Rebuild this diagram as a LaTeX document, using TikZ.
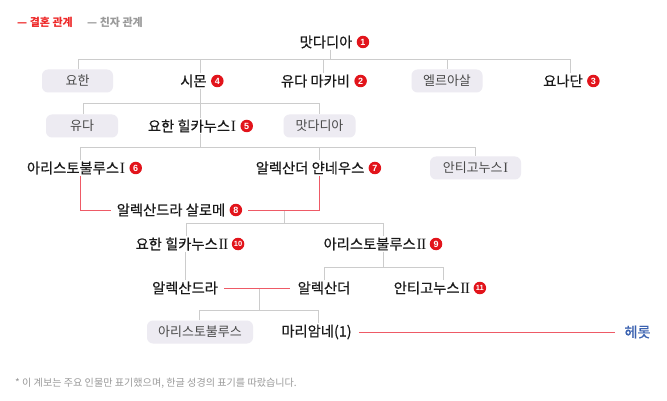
\documentclass[tikz,border=0pt]{standalone}
\usepackage{fontspec}
\setmainfont{Noto Sans CJK KR}
\newfontfamily\namefont[FakeBold=0.5]{Noto Sans CJK KR}
\newfontfamily\badgefont{Liberation Sans}
\newfontfamily\romanfont[Scale=1.1]{Liberation Serif}
\newcommand{\RomOne}{{\romanfont\kern0.8pt I}}
\newcommand{\RomTwo}{{\romanfont\kern0.8pt I\kern-0.6pt I}}
\usetikzlibrary{positioning}
\definecolor{kincol}{HTML}{CCCCCC}
\definecolor{marcol}{HTML}{EE5A66}
\definecolor{badgered}{HTML}{E2141B}
\definecolor{boxfill}{HTML}{EDEBF2}
\definecolor{boxtext}{HTML}{4A4A4A}
\definecolor{nametext}{HTML}{1A1A1A}
\definecolor{herodblue}{HTML}{3B62B0}
\definecolor{legred}{HTML}{EE2A2A}
\definecolor{leggray}{HTML}{9A9A9A}
\tikzset{
  nm/.style={inner sep=1pt, text=nametext, font=\namefont\fontsize{14.3}{16}\selectfont},
  bx/.style={fill=boxfill, rounded corners=6pt, minimum height=23pt, inner sep=2pt, text=boxtext, font=\fontsize{13}{15}\selectfont},
  badge/.style={circle, fill=badgered, text=white, inner sep=0pt, minimum size=12.5pt, font=\badgefont\bfseries\fontsize{9}{9}\selectfont},
  badgesm/.style={badge, font=\badgefont\bfseries\fontsize{7.5}{7.5}\selectfont},
  kinl/.style={draw=kincol, line width=1pt},
  marl/.style={draw=marcol, line width=1pt},
}
\begin{document}
\begin{tikzpicture}[x=1pt,y=-1pt]
\useasboundingbox[fill=white] (0,0) rectangle (667,401);
% legend
\node[anchor=west, inner sep=0pt, text=legred, font=\bfseries\fontsize{11}{13}\selectfont] (leg1) at (17,22) {— 결혼 관계};
\node[anchor=west, inner sep=0pt, text=leggray, font=\bfseries\fontsize{11}{13}\selectfont] (leg2) at (87,22) {— 친자 관계};
% row 1
\node[nm] (mat) at (326,42) {맛다디아};
\node[badge, right=3pt of mat] (b1) {1};
% row 2
\node[bx, minimum width=71pt] (yohan) at (77.5,81) {요한};
\node[nm] (simon) at (193.5,81) {시몬};
\node[badge, right=3pt of simon] (b4) {4};
\node[nm] (yuda) at (315.5,81) {유다 마카비};
\node[badge, right=3pt of yuda] (b2) {2};
\node[bx, minimum width=71pt] (eleazar) at (447,81) {엘르아살};
\node[nm] (yonadan) at (563,81) {요나단};
\node[badge, right=3pt of yonadan] (b3) {3};
% row 3
\node[bx, minimum width=72pt] (yuda2) at (82,126) {유다};
\node[nm] (hyr1) at (192,126) {요한 힐카누스\RomOne};
\node[badge, right=3pt of hyr1] (b5) {5};
\node[bx, minimum width=72pt] (mat2) at (319.5,126) {맛다디아};
% row 4
\node[nm] (ari1) at (76,168) {아리스토불루스\RomOne};
\node[badge, right=3pt of ari1] (b6) {6};
\node[nm] (jan) at (310,168) {알렉산더 얀네우스};
\node[badge, right=3pt of jan] (b7) {7};
\node[bx, minimum width=91pt] (ant1) at (475.5,168) {안티고누스\RomOne};
% salome
\node[nm] (sal) at (171,210) {알렉산드라 살로메};
\node[badge, right=3pt of sal] (b8) {8};
% row 5
\node[nm] (hyr2) at (182,244) {요한 힐카누스\RomTwo};
\node[badgesm, right=2pt of hyr2] (b10) {10};
\node[nm] (ari2) at (375,244) {아리스토불루스\RomTwo};
\node[badge, right=2pt of ari2] (b9) {9};
% row 6
\node[nm] (alexa) at (185,288) {알렉산드라};
\node[nm] (alex) at (324,288) {알렉산더};
\node[nm] (ant2) at (432,288) {안티고누스\RomTwo};
\node[badgesm, right=2pt of ant2] (b11) {11};
% row 7
\node[bx, minimum width=106pt] (ari3) at (200,332) {아리스토불루스};
\node[nm] (mar) at (316.5,332) {마리암네(1)};
\node[nm, text=herodblue] (herod) at (637.5,332) {헤롯};
% footnote
\node[anchor=west, inner sep=0pt, text=leggray, font=\fontsize{10.1}{12}\selectfont] (note) at (15,383) {* 이 계보는 주요 인물만 표기했으며, 한글 성경의 표기를 따랐습니다.};
% kinship lines
\draw[kinl] (330,0 |- mat.south) -- (330,60);
\draw[kinl] (78,0 |- yohan.north) -- (78,60) -- (570,60) -- (570,0 |- yonadan.north);
\draw[kinl] (200,60) -- (200,0 |- simon.north);
\draw[kinl] (323,60) -- (323,0 |- yuda.north);
\draw[kinl] (447,60) -- (447,0 |- eleazar.north);
\draw[kinl] (200,0 |- simon.south) -- (200,0 |- hyr1.north);
\draw[kinl] (83,0 |- yuda2.north) -- (83,104) -- (319,104) -- (319,0 |- mat2.north);
\draw[kinl] (200,0 |- hyr1.south) -- (200,148);
\draw[kinl] (80,0 |- ari1.north) -- (80,148) -- (475,148) -- (475,0 |- ant1.north);
\draw[kinl] (319,148) -- (319,0 |- jan.north);
\draw[kinl] (284,210) -- (284,223);
\draw[kinl] (186,0 |- hyr2.north) -- (186,223) -- (383,223) -- (383,0 |- ari2.north);
\draw[kinl] (185,0 |- hyr2.south) -- (185,0 |- alexa.north);
\draw[kinl] (383,0 |- ari2.south) -- (383,267);
\draw[kinl] (324,0 |- alex.north) -- (324,267) -- (443,267) -- (443,0 |- ant2.north);
\draw[kinl] (259,288) -- (259,310);
\draw[kinl] (199,0 |- ari3.north) -- (199,310) -- (318,310) -- (318,0 |- mar.north);
% marriage lines
\draw[marl] (80,0 |- ari1.south) -- (80,210) -- ([xshift=-5pt]sal.west);
\draw[marl] ([xshift=6pt]b8.east) -- (319,210) -- (319,0 |- jan.south);
\draw[marl] ([xshift=5pt]alexa.east) -- ([xshift=-6pt]alex.west);
\draw[marl] ([xshift=6pt]mar.east) -- ([xshift=-8pt]herod.west);
\end{tikzpicture}
\end{document}
